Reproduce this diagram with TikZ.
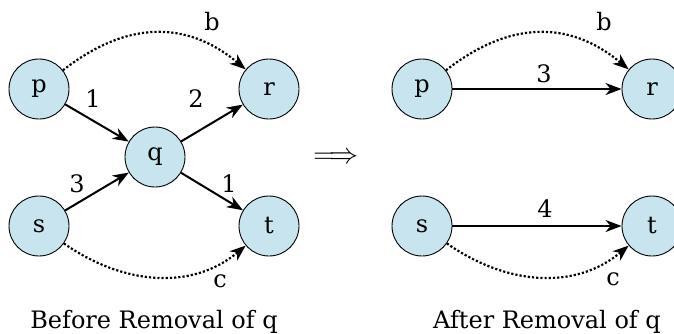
\documentclass[tikz,border=0pt]{standalone}
\usepackage{graphicx}
\usepackage{fontspec}
\setmainfont{DejaVu Serif}
\usetikzlibrary{arrows.meta}
\definecolor{nodefill}{RGB}{200,229,239}
\begin{document}
\begin{tikzpicture}[x=1pt,y=-1pt,
  vert/.style={circle,draw=black,line width=0.9pt,fill=nodefill,minimum size=60pt,inner sep=0pt,font=\fontsize{24}{28}\selectfont},
  lbl/.style={anchor=base,inner sep=0pt,font=\fontsize{24}{28}\selectfont},
  edgeline/.style={line width=2pt,-{Stealth[length=16pt,width=12pt,inset=5pt]}},
  dotline/.style={line width=2.2pt,dotted,-{Stealth[length=16pt,width=12pt,inset=5pt]}},
  title/.style={anchor=base,inner sep=0pt,font=\fontsize{24}{28}\selectfont}]
\useasboundingbox (0,0) rectangle (674,333);
% left graph
\node[vert] (p) at (39,89) {p};
\node[vert] (r) at (269,89) {r};
\node[vert] (q) at (155,157) {q};
\node[vert] (s) at (39,226) {s};
\node[vert] (t) at (269,226) {t};
\draw[edgeline] (p) -- (q);
\draw[edgeline] (q) -- (r);
\draw[edgeline] (s) -- (q);
\draw[edgeline] (q) -- (t);
\draw[dotline] (p) to[out=38,in=140,looseness=1.1] (r);
\draw[dotline] (s) to[out=-35,in=-140,looseness=1.0] (t);
\node[lbl] (l1) at (93,107) {1};
\node[lbl] (l2) at (196,107) {2};
\node[lbl] (l3) at (77,192) {3};
\node[lbl] (l4) at (229,192) {1};
\node[lbl] (lb) at (212,30) {b};
\node[lbl] (lc) at (220,287) {c};
\node[title] (t1) at (154,328) {Before Removal of q};
% arrow
\node[inner sep=0pt,font=\fontsize{24.88}{28}\selectfont] (impl) at (336,158) {\scalebox{1.17}{$\Longrightarrow$}};
% right graph
\node[vert] (p2) at (422,89) {p};
\node[vert] (r2) at (652,89) {r};
\node[vert] (s2) at (422,226) {s};
\node[vert] (t2) at (652,226) {t};
\draw[edgeline] (p2) -- (r2);
\draw[edgeline] (s2) -- (t2);
\draw[dotline] (p2) to[out=38,in=140,looseness=1.1] (r2);
\draw[dotline] (s2) to[out=-35,in=-140,looseness=1.0] (t2);
\node[lbl] (m3) at (544,82) {3};
\node[lbl] (m4) at (545,217) {4};
\node[lbl] (mb) at (604,30) {b};
\node[lbl] (mc) at (613,285) {c};
\node[title] (t2l) at (547,328) {After Removal of q};
\end{tikzpicture}
\end{document}
